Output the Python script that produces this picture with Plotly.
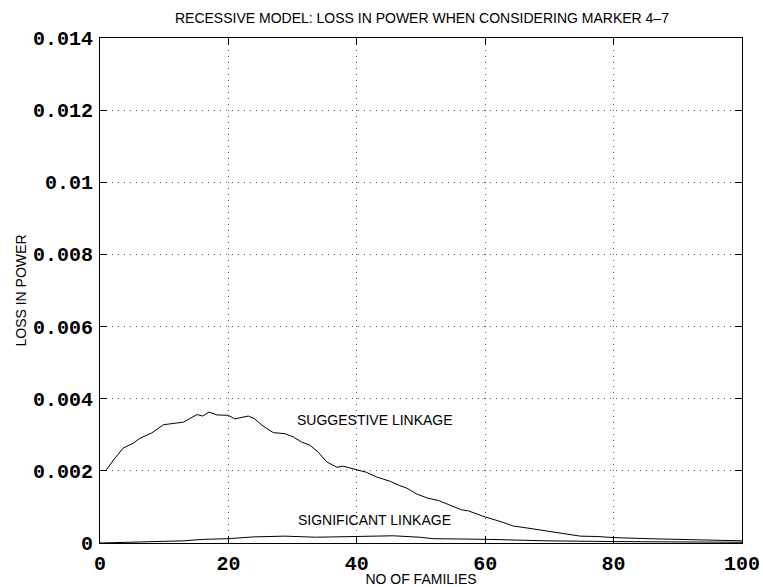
import plotly.graph_objects as go

# Suggestive linkage curve
sug_x = [1, 2.1, 3.6, 5.2, 6.2, 8.05, 9.9, 11.4, 13, 15.1, 16, 17, 18.2, 20, 21, 23.1, 24.1,
         25.4, 27, 28.8, 30.1, 31.4, 32.7, 34, 35.3, 36.9, 37.9, 40, 41.5, 43.1, 45.2, 46.7,
         47.8, 49.3, 51.1, 52.7, 54.5, 56.3, 57.4, 60, 62.3, 64.4, 66.4, 69, 71.7, 74.8, 77.4,
         80, 85.2, 90.4, 95.6, 100]
sug_y = [0.00203, 0.0023, 0.00263, 0.00277, 0.0029, 0.00305, 0.00328, 0.00332, 0.00335, 0.00356,
         0.00352, 0.00363, 0.00355, 0.00354, 0.00344, 0.00352, 0.00344, 0.00324, 0.00306, 0.00303,
         0.00294, 0.0028, 0.00271, 0.00252, 0.00225, 0.0021, 0.00213, 0.00203, 0.00196, 0.00183,
         0.00171, 0.00159, 0.00152, 0.00136, 0.00124, 0.00118, 0.00104, 0.00092, 0.00089, 0.00072,
         0.0006, 0.00047, 0.00042, 0.00035, 0.00028, 0.00019, 0.00018, 0.00015, 0.00012, 0.0001,
         0.00008, 0.00006]

# Significant linkage curve
sig_x = [0, 5.2, 13, 16, 20, 24, 28.8, 33.7, 40, 45.7, 49.8, 51.9, 60.7, 69.5, 80, 90, 100]
sig_y = [0, 0.00003, 0.00006, 0.0001, 0.00012, 0.00017, 0.00019, 0.00016, 0.00019, 0.0002,
         0.00016, 0.00012, 0.0001, 0.00006, 0.00004, 0.00003, 0.00002]

x_ticks = [0, 20, 40, 60, 80, 100]
y_ticks = [0, 0.002, 0.004, 0.006, 0.008, 0.01, 0.012, 0.014]
y_ticklabels = ["0", "0.002", "0.004", "0.006", "0.008", "0.01", "0.012", "0.014"]

labels = [("SUGGESTIVE LINKAGE", 42.8, 0.0034), ("SIGNIFICANT LINKAGE", 42.8, 0.00064)]

sans = "Liberation Sans, Arial, Helvetica"
fig = go.Figure()
fig.add_trace(go.Scatter(x=sug_x, y=sug_y, mode="lines", line=dict(color="black", width=1), showlegend=False))
fig.add_trace(go.Scatter(x=sig_x, y=sig_y, mode="lines", line=dict(color="black", width=1), showlegend=False))

for text, lx, ly in labels:
    fig.add_annotation(x=lx, y=ly, text=text, showarrow=False,
                       font=dict(family=sans, size=14, color="black"))

tickfont = dict(family="Liberation Mono, Courier New", size=20, color="black", weight="bold")
axis_common = dict(ticks="inside", ticklen=7, tickcolor="black", showline=True, linecolor="black",
                   linewidth=1, mirror="ticks", showgrid=True, gridcolor="#555",
                   griddash="1px,5px", gridwidth=1, zeroline=False, tickfont=tickfont,
                   automargin=False)
fig.update_layout(
    width=763, height=587,
    margin=dict(l=100, r=21, t=38, b=44),
    paper_bgcolor="white", plot_bgcolor="white",
    title=dict(text="RECESSIVE MODEL: LOSS IN POWER WHEN CONSIDERING MARKER 4–7",
               x=0.553, xanchor="center", y=1 - 18 / 587, yanchor="middle",
               font=dict(family=sans, size=14, color="black")),
    xaxis=dict(range=[0, 100], tickvals=x_ticks, ticklabelstandoff=2,
               title=dict(text="NO OF FAMILIES", standoff=0,
                          font=dict(family=sans, size=14, color="black")),
               **axis_common),
    yaxis=dict(range=[0, 0.014], tickvals=y_ticks, ticktext=y_ticklabels, ticklabelstandoff=2,
               title=dict(text="LOSS IN POWER", standoff=3,
                          font=dict(family=sans, size=14, color="black")),
               **axis_common),
)

fig.write_html("out.html")
